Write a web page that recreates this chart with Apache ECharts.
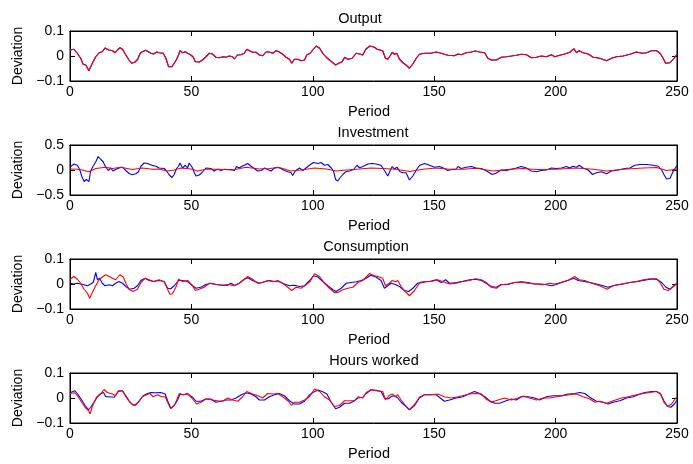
<!DOCTYPE html>
<html>
<head>
<meta charset="utf-8">
<title>Deviations</title>
<script src="https://cdn.jsdelivr.net/npm/echarts@6/dist/echarts.min.js"></script>
<style>
  html, body { margin: 0; padding: 0; background: #fff; }
  #chart { width: 693px; height: 464px; }
</style>
</head>
<body>
<div id="chart"></div>
<script>
// panel titles and axis settings
var titles = ['Output', 'Investment', 'Consumption', 'Hours worked'];
var periodTicks = [0, 50, 100, 150, 200, 250];
var yLimits = [0.1, 0.5, 0.1, 0.1];

// [period, deviation]; blue = data, red = model
var outputData = [[0,0.024],[1.6,0.027],[3,0.011],[4.4,-0.009],[5.4,-0.033],[6.5,-0.036],[7.8,-0.059],[9.2,-0.029],[10.6,-0.003],[12,0.013],[13.3,0.017],[14.4,0.032],[16,0.024],[17.5,0.021],[18.6,0.013],[19.5,0.024],[20.6,0.033],[21.6,0.027],[23,0.004],[24.3,-0.016],[25.4,-0.029],[26.8,-0.024],[27.9,-0.013],[28.9,0.011],[29.8,0.017],[31.2,0.023],[32.3,0.017],[33.3,0.011],[34.4,0.008],[35.8,0.016],[36.7,0.013],[38.4,0.011],[39.5,-0.009],[40.6,-0.043],[42,-0.043],[42.9,-0.029],[43.9,-0.013],[44.7,0.004],[45.3,0.021],[46.4,0.013],[47.5,0.017],[48.4,0.011],[49.8,0.004],[50.8,-0.005],[51.6,-0.023],[53.2,-0.024],[54.6,-0.016],[56,-0.003],[57.4,0.011],[58.7,0.008],[60.1,-0.005],[61.5,-0.007],[63.1,-0.003],[64.2,-0.005],[65.6,0],[67,-0.003],[67.7,-0.012],[69,0.004],[70.4,0.005],[71.8,0.011],[72.8,0.027],[73.9,0.021],[75.2,0.015],[76.6,0.015],[78,0.004],[79.4,0.001],[80.7,0.016],[82.1,0.016],[83.5,0.011],[84.9,0.021],[86.2,0.016],[87.6,0.007],[89,-0.005],[90.4,-0.013],[91.3,-0.029],[92.4,-0.013],[93.8,-0.013],[95.2,-0.019],[96.6,-0.016],[97.5,0.004],[98.9,0.011],[100,0.024],[101.4,0.04],[102.8,0.031],[104.1,0.011],[105.5,-0.005],[106.9,-0.016],[108.3,-0.027],[109.4,-0.036],[110.7,-0.029],[112.1,-0.023],[113.1,-0.005],[114.4,-0.013],[116.2,-0.009],[117.9,0.011],[119.3,0.008],[120.6,0.004],[121.8,0.027],[123.5,0.04],[125.4,0.035],[126.5,0.027],[128.8,0.021],[129.9,-0.009],[130.9,-0.013],[131.8,0],[132.7,0.015],[133.6,0.007],[134.6,0.011],[135.7,-0.013],[137.1,-0.027],[138.4,-0.036],[139.8,-0.049],[141.2,-0.032],[142.6,-0.009],[143.9,0.007],[146,0.011],[148.7,0.011],[150.8,0.016],[152.9,0.011],[155.6,0.003],[158.4,0.001],[159.8,0.008],[161.1,0.005],[163.2,0.013],[165.3,0.016],[167,0.02],[168.7,0.016],[170.8,0.013],[172.1,-0.009],[173.5,-0.016],[175.6,-0.016],[177.6,-0.005],[179.7,-0.003],[181.8,0],[183.8,0.003],[185.9,0.007],[188,0.005],[190,-0.007],[192.1,-0.005],[194.1,0],[196.2,-0.003],[198.3,0.005],[199.6,-0.003],[201.7,0.003],[203.8,0.008],[205.8,0.015],[207.6,0.029],[208.6,0.013],[209.7,0.021],[211.3,0.013],[213.4,0.008],[215.5,-0.005],[218.2,-0.009],[221,-0.019],[223,-0.009],[225.1,-0.003],[227.8,0],[230.6,0.007],[233.3,0.016],[235.4,0.011],[237.5,0.013],[239.5,0.021],[241.6,0.021],[243,0.011],[244.3,-0.009],[245.3,-0.029],[247.1,-0.027],[248.8,-0.009],[250,0.007]];
// model output sits on top of the data line
var outputModel = outputData;

var investData = [[0,0.056],[1.6,0.12],[3,0.095],[4,0.01],[4.8,-0.12],[5.8,-0.23],[6.7,-0.19],[7.8,-0.23],[8.5,-0.02],[9.5,0.075],[10.6,0.16],[11.6,0.27],[12.7,0.21],[13.6,0.17],[14.7,0.056],[15.8,-0.01],[16.8,0.04],[17.7,-0.02],[18.8,0.01],[20.2,0.04],[21.6,0.056],[23,-0.01],[24.3,-0.07],[25.7,-0.095],[27.1,-0.075],[28.2,-0.036],[29.2,0.075],[30.5,0.14],[31.9,0.13],[33.7,0.095],[35.4,0.075],[36.7,0.04],[38.8,0.03],[39.8,-0.02],[40.9,-0.1],[42,-0.15],[42.9,-0.09],[43.9,0.03],[44.7,0.075],[45.3,0.14],[46.4,0.04],[47.5,0.095],[48.4,0.04],[49.1,0.14],[50.5,0.04],[51.2,-0.055],[51.9,-0.12],[53.2,-0.1],[54.3,-0.055],[56,0.04],[58,0.03],[59.4,-0.02],[60.8,0.015],[62.2,-0.01],[63.5,0.015],[64.9,0.01],[66.3,0.01],[67.7,-0.01],[68.6,0.07],[69.7,0.04],[70.8,0.075],[71.8,0.095],[73.2,0.13],[74.6,0.075],[75.9,0.03],[77.3,-0.02],[78.7,-0.01],[80.1,0.04],[81.4,0.01],[82.8,-0.02],[84.2,0.04],[85.6,0.056],[86.9,0.03],[88.3,-0.01],[89.7,-0.036],[91.1,-0.055],[91.7,-0.11],[92.8,-0.02],[94.5,0.04],[95.9,-0.01],[97.2,0.04],[98.6,0.095],[100.3,0.15],[102.1,0.13],[103.4,0.15],[104.8,0.095],[106.2,0.11],[107.6,0.04],[108.5,-0.02],[109.4,-0.19],[110.3,-0.22],[111.3,-0.15],[112.4,-0.09],[113.5,-0.036],[115.1,-0.02],[116.8,0.01],[118.2,0.095],[119.3,0.04],[120.6,0.07],[122.7,0.12],[124.5,0.13],[126,0.12],[128.1,0.095],[129.5,-0.01],[130.9,-0.12],[131.8,-0.02],[132.7,0.07],[133.6,0.02],[134.6,0.056],[136,-0.036],[137.1,-0.055],[138.4,-0.055],[139.8,-0.2],[141.2,-0.12],[142.8,0.01],[143.9,0.09],[146,0.13],[148.1,0.095],[150.1,0.056],[152.2,0.07],[154.2,0.03],[155.6,-0.01],[157.7,0.015],[158.8,0.01],[159.8,0.07],[161.1,0.03],[163.2,0.056],[165.3,0.07],[167.3,0.04],[169.4,0.03],[170.8,0],[172.1,-0.036],[173.9,-0.09],[175.6,-0.06],[177.6,0],[179.7,-0.01],[181.8,0.015],[183.8,0.04],[185.9,0.07],[188,0.04],[190,-0.02],[192.1,-0.036],[194.1,-0.01],[196.2,0],[198.3,0.04],[200.3,0.03],[202.4,0.04],[204.5,0.07],[205.8,0.04],[207.2,0.075],[208.6,0.056],[209.7,0.095],[211.3,0.04],[213.4,0],[215.2,-0.09],[216.8,-0.055],[218.9,-0.036],[221,-0.075],[223,-0.02],[225.8,0],[228.5,0.03],[230.6,0.04],[232.6,0.095],[234.7,0.11],[237.5,0.11],[240.2,0.095],[242.3,0.075],[243.7,0],[244.6,-0.09],[245.7,-0.18],[247.1,-0.17],[248.5,-0.02],[250,0.095]];
var investModel = [[0,0.02],[3,0.015],[5,0],[7.8,-0.036],[10.6,0.03],[14.7,0.056],[17.5,0.03],[21,0.056],[25.7,0.01],[29.8,0.04],[34,0.015],[36.7,0.02],[40,-0.02],[42.9,0],[45.7,0.04],[49.8,0.02],[52.5,-0.02],[56,0.015],[61.5,0.015],[67,0],[72.5,0.056],[78,0.02],[82.1,0.03],[86.2,0.05],[91,-0.02],[95.2,0],[100.7,0.04],[105.5,0.02],[109.7,-0.02],[113.8,0],[119.3,0.02],[124,0.04],[128.8,0.03],[134.3,0.015],[139.8,-0.03],[145.3,0.015],[150.8,0.04],[156.3,0.015],[161.8,0.015],[167.3,0.035],[174.2,-0.02],[181.1,0.015],[186.6,0.03],[192.1,0.01],[200.3,0.015],[208.6,0.04],[215.5,0.015],[221,-0.02],[227.8,0.015],[236.1,0.04],[241.6,0.05],[245.7,-0.01],[250,0.015]];

var consData = [[0,0.003],[1.6,0],[3,0.003],[4.4,0],[5.8,-0.003],[7.2,-0.007],[8.5,0],[9.6,0.007],[10.6,0.046],[11.3,0.017],[12.2,0.023],[13.3,0.003],[14.4,-0.007],[16.1,-0.003],[17.5,-0.007],[18.8,0.003],[20.2,0.01],[21.6,0.003],[23,-0.01],[24.6,-0.021],[26.4,-0.017],[27.8,-0.007],[29.2,0.014],[30.9,0.023],[32.6,0.014],[34.4,0.01],[36.7,0.014],[38.8,0.01],[40.2,-0.017],[41.5,-0.019],[42.9,-0.007],[44.7,0.014],[46.4,0.014],[48.4,0.01],[50.5,-0.007],[51.9,-0.017],[53.9,-0.013],[56,-0.002],[58,0.003],[60.1,-0.002],[62.9,-0.005],[64.9,-0.005],[66.3,0.003],[67.7,-0.006],[69.7,0.003],[71.8,0.019],[73.2,0.025],[75.2,0.014],[78,0.003],[80.1,0.009],[82.1,0.014],[84.2,0.01],[86.2,0.009],[88.3,0],[90.4,-0.007],[92.4,-0.005],[94.5,-0.01],[96.6,-0.007],[98.3,0.01],[100.3,0.033],[102.1,0.028],[104.1,0.01],[106.2,-0.007],[108.3,-0.023],[109.6,-0.03],[111.7,-0.017],[113.8,0.003],[115.8,0.006],[117.9,0.009],[120,0.014],[122,0.023],[123.8,0.035],[126,0.028],[128.1,0.014],[129.5,-0.017],[130.9,-0.007],[132.2,0.003],[134,-0.002],[135.7,-0.01],[137.7,-0.026],[139.5,-0.03],[141.2,-0.017],[143.2,0.003],[145.3,0.009],[148.1,0.01],[150.8,0.017],[152.9,0.006],[154.7,0.017],[156.3,0.003],[159.1,0.006],[161.8,0.011],[164.6,0.017],[167,0.019],[169.4,0.014],[171.4,0.003],[173.5,-0.01],[175.6,-0.013],[177.6,-0.002],[180.4,-0.002],[183.1,0.006],[185.9,0.009],[188.6,0.006],[191.4,0],[194.1,0],[196.2,-0.003],[198.3,-0.007],[200.3,-0.002],[203.1,0.009],[205.8,0.017],[207.5,0.023],[209.3,0.014],[211.3,0.011],[214.1,0.006],[216.8,0],[219.6,-0.007],[221.6,-0.013],[224.4,-0.005],[227.8,0],[230.6,0.006],[233.3,0.009],[236.1,0.014],[238.8,0.019],[241.6,0.019],[243.7,0.006],[245.4,-0.013],[247.1,-0.021],[248.8,-0.007],[250,0.003]];
var consModel = [[0,0.019],[1.6,0.03],[3,0.019],[4.4,0.003],[5.8,-0.021],[7.2,-0.037],[8.1,-0.057],[9.2,-0.034],[10.6,-0.007],[12,0.017],[13.3,0.028],[14.7,0.037],[16.1,0.03],[17.5,0.023],[18.8,0.017],[20.5,0.037],[21.9,0.028],[23,0.003],[24.3,-0.021],[26,-0.03],[27.8,-0.021],[29.2,0.006],[30.9,0.023],[32.6,0.017],[34.4,0.01],[36.7,0.017],[38.8,0.009],[40.2,-0.021],[41.1,-0.041],[42.2,-0.039],[43.6,-0.013],[44.7,0.019],[46.4,0.01],[48.4,0.014],[50.5,-0.007],[51.6,-0.026],[53.2,-0.021],[55.3,-0.013],[57.4,0.003],[60.1,-0.002],[62.9,-0.005],[64.9,-0.002],[67.7,-0.007],[69.7,0.003],[71.8,0.019],[73.2,0.03],[75.2,0.019],[77.3,0.003],[79.4,0.006],[81.4,0.014],[83.5,0.009],[85.6,0.014],[87.6,0.003],[89.7,-0.013],[91.3,-0.026],[93.1,-0.013],[95.2,-0.017],[97.2,-0.003],[98.9,0.01],[100.7,0.041],[102.8,0.03],[104.8,0.003],[106.9,-0.017],[108.9,-0.034],[110.3,-0.034],[112.4,-0.023],[114.4,-0.017],[116.5,-0.013],[118.6,0.006],[120.6,0.014],[123.4,0.042],[125.4,0.033],[126.5,0.031],[128.8,0.023],[129.9,-0.007],[131.5,0.003],[132.7,0.014],[134,0.009],[135,0.014],[136.4,-0.01],[137.7,-0.026],[139.8,-0.047],[141.9,-0.026],[143.9,0.003],[146.7,0.009],[149.4,0.011],[151.5,0.017],[153.6,0.009],[156.3,0],[159.1,0.003],[161.8,0.01],[164.6,0.014],[167,0.021],[169.4,0.017],[171.4,0.006],[173.5,-0.013],[175.6,-0.017],[177.6,-0.003],[180.4,0],[183.1,0.006],[185.9,0.007],[188.6,0.003],[191.4,0],[194.8,-0.003],[197.6,0.003],[199.6,0],[202.4,0.006],[205.1,0.014],[207.9,0.03],[209.7,0.017],[212,0.014],[214.8,0.003],[218.2,-0.007],[221.2,-0.021],[223.7,-0.007],[227.2,0],[230.6,0.006],[233.3,0.01],[236.1,0.017],[238.8,0.021],[241.6,0.021],[243,0.006],[244.6,-0.021],[246.4,-0.026],[248.5,-0.01],[250,0.003]];

var hoursData = [[0,0.021],[2,0.029],[3.4,0.013],[4.8,-0.008],[6.2,-0.03],[7.6,-0.047],[8.5,-0.037],[9.9,-0.017],[11.3,0.005],[12.7,0.018],[13.8,0.022],[14.7,0.005],[16.1,0.005],[18.2,0.003],[19.9,0.026],[21.6,0.029],[23,0.009],[24.3,-0.011],[25.7,-0.026],[27.1,-0.029],[28.5,-0.011],[30.1,0.009],[31.9,0.018],[33.3,0.022],[35.4,0.021],[37.4,0.022],[39.2,0.016],[40.2,-0.011],[41.5,-0.041],[42.9,-0.03],[44.3,-0.008],[45.3,0.016],[46.6,0.013],[48.4,0.016],[50.5,0.003],[51.9,-0.013],[53.9,-0.013],[56,-0.004],[58,-0.004],[60.1,-0.017],[62.2,-0.013],[64.2,-0.008],[66.3,-0.008],[68.4,0],[70.4,0.012],[72.5,0.021],[74.6,0.016],[76.6,0.005],[78,-0.008],[80.1,-0.008],[82.1,0.005],[84.2,0.013],[86.2,0.018],[88.3,0.009],[90.4,-0.011],[92.4,-0.024],[94.5,-0.024],[96.6,-0.013],[98.3,0.009],[100,0.022],[102.1,0.032],[104.1,0.025],[105.8,0.016],[107.6,-0.017],[109.4,-0.043],[111,-0.037],[113.1,-0.021],[115.1,-0.021],[116.8,-0.013],[118.6,0],[120.6,0.003],[122,0.018],[124,0.033],[126,0.031],[128.1,0.026],[129.5,0],[130.9,-0.004],[132.2,0.005],[133.6,0.009],[135,0],[136.4,-0.017],[138.4,-0.034],[139.8,-0.047],[141.9,-0.03],[143.9,0],[146,0.013],[148.7,0.013],[150.8,0.013],[152.5,0],[154.2,-0.013],[156.3,-0.008],[159.1,0],[161.8,0.005],[164.6,0.018],[166.6,0.026],[168.7,0.018],[170.8,0.005],[172.8,-0.011],[174.9,-0.021],[176.9,-0.021],[179.7,-0.011],[181.8,-0.004],[183.8,-0.008],[185.9,0.005],[188.6,0.005],[191.4,0],[193.4,-0.008],[196.2,0.005],[199,0.009],[202.4,0.009],[205.1,0.016],[207.9,0.018],[210,0.022],[212,0.018],[214.1,0.003],[216.8,-0.013],[219.6,-0.017],[221.6,-0.024],[223.7,-0.017],[226.5,-0.011],[229.2,0],[232,0.005],[234.7,0.016],[236.8,0.022],[239.5,0.026],[241.6,0.026],[243.2,0.016],[244.6,-0.011],[246.1,-0.034],[247.5,-0.037],[248.9,-0.024],[250,-0.008]];
var hoursModel = [[0,0.018],[2,0.021],[3.4,0.005],[4.8,-0.017],[6.2,-0.037],[7.6,-0.05],[8.3,-0.063],[9.2,-0.034],[10.9,0.003],[12.7,0.018],[14,0.034],[15.4,0.022],[17.5,0.016],[18.8,0.009],[19.9,0.029],[21.6,0.029],[23,0.005],[24.6,-0.017],[26.4,-0.03],[28.2,-0.017],[29.8,0.005],[31.5,0.013],[32.9,0.018],[34.2,0.005],[36,0.013],[37.8,0.005],[39.2,0.005],[40.4,-0.021],[41.5,-0.043],[43.3,-0.024],[45,0.018],[46.6,0.013],[48.4,0.018],[50.2,0],[52.1,-0.024],[53.9,-0.017],[56,-0.004],[58.7,-0.008],[60.8,-0.011],[62.9,-0.013],[64.9,0],[67,-0.008],[69.1,-0.013],[71.1,0.005],[72.8,0.026],[75.2,0.016],[77.3,0.009],[79.4,0],[81.4,0.018],[83.5,0.016],[85.6,0.018],[87.6,0.005],[89.7,-0.011],[91.3,-0.03],[92.4,-0.017],[94.5,-0.017],[96.6,-0.008],[98.6,0.005],[100.7,0.036],[102.8,0.026],[104.8,0.005],[106.9,-0.008],[108.9,-0.034],[111,-0.03],[113.1,-0.011],[115.1,-0.011],[117.2,-0.011],[118.6,0.005],[120.6,0],[122,0.022],[124,0.033],[126,0.029],[128.8,0.026],[129.9,-0.008],[131.3,0.009],[132.7,0.016],[134,0.005],[135,0.013],[136.4,-0.008],[138.2,-0.03],[139.8,-0.047],[141.9,-0.026],[143.9,0.003],[146,0.013],[148.7,0.013],[151.5,0.016],[154.2,0.005],[157,0],[159.8,0.005],[162.5,0.011],[164.6,0.016],[167,0.018],[169.4,0.016],[171.4,-0.004],[173.5,-0.017],[176.3,-0.008],[179,0],[181.8,-0.008],[184.5,0],[186.6,0.008],[189.3,0],[192.1,-0.008],[194.8,0],[197.6,0],[200.3,0.005],[203.1,0.009],[205.8,0.013],[208.6,0.016],[211.3,0.005],[214.1,-0.004],[216.2,-0.017],[218.2,-0.013],[221,-0.021],[223.7,-0.011],[227.2,0],[229.9,0.005],[233.3,0.013],[236.1,0.018],[238.8,0.022],[241.6,0.026],[243.2,0.018],[244.6,-0.017],[246.1,-0.034],[247.8,-0.024],[248.9,-0.008],[250,0.005]];

var blueSets = [outputData, investData, consData, hoursData];
var redSets = [outputModel, investModel, consModel, hoursModel];

var gridTops = [31, 145, 259, 373];
var gridHeight = 50;
var titleCenters = [360, 373, 366, 374];
var font = 'Liberation Sans, Arial, Helvetica, sans-serif';

function fmtY(v) {
  if (Math.abs(v) < 1e-9) return '0';
  return String(+v.toFixed(2)).replace('-', '\u2212');
}

var grids = [], xAxes = [], yAxes = [], series = [], texts = [];

for (var i = 0; i < 4; i++) {
  grids.push({ left: 70, right: 16, top: gridTops[i], height: gridHeight,
    show: true, borderColor: '#000', borderWidth: 1, backgroundColor: '#fff' });

  // panel title and "Period" label
  texts.push({ type: 'text', x: titleCenters[i], y: gridTops[i] - 12,
    style: { text: titles[i], font: '14.5px ' + font, fill: '#000',
      textAlign: 'center', textVerticalAlign: 'middle' } });
  texts.push({ type: 'text', x: 369, y: gridTops[i] + gridHeight + 31,
    style: { text: 'Period', font: '14.5px ' + font, fill: '#000',
      textAlign: 'center', textVerticalAlign: 'middle' } });

  // bottom axis with labels
  xAxes.push({ type: 'value', gridIndex: i, min: 0, max: 250, interval: 50,
    axisLine: { onZero: false, lineStyle: { color: '#000', width: 1 } },
    axisTick: { inside: true, length: 5, lineStyle: { color: '#000' } },
    axisLabel: { fontFamily: font, fontSize: 14, color: '#000', margin: 4 },
    splitLine: { show: false } });
  // top mirror axis, ticks only
  xAxes.push({ type: 'value', gridIndex: i, position: 'top', min: 0, max: 250, interval: 50,
    axisLine: { onZero: false, lineStyle: { color: '#000', width: 1 } },
    axisTick: { inside: true, length: 5, lineStyle: { color: '#000' } },
    axisLabel: { show: false }, splitLine: { show: false } });

  var lim = yLimits[i];
  yAxes.push({ type: 'value', gridIndex: i, min: -lim, max: lim, interval: lim,
    name: 'Deviation', nameLocation: 'middle', nameGap: 41,
    nameTextStyle: { fontFamily: font, fontSize: 14, color: '#000' },
    axisLine: { show: true, onZero: false, lineStyle: { color: '#000', width: 1 } },
    axisTick: { show: true, inside: true, length: 5, lineStyle: { color: '#000' } },
    axisLabel: { fontFamily: font, fontSize: 14, color: '#000', margin: 6, formatter: fmtY },
    splitLine: { show: false } });
  yAxes.push({ type: 'value', gridIndex: i, position: 'right', min: -lim, max: lim, interval: lim,
    axisLine: { show: true, onZero: false, lineStyle: { color: '#000', width: 1 } },
    axisTick: { show: true, inside: true, length: 5, lineStyle: { color: '#000' } },
    axisLabel: { show: false }, splitLine: { show: false } });

  series.push({ type: 'line', xAxisIndex: i * 2, yAxisIndex: i * 2, data: blueSets[i],
    showSymbol: false, lineStyle: { color: '#0000ff', width: 1.1 }, itemStyle: { color: '#0000ff' } });
  series.push({ type: 'line', xAxisIndex: i * 2, yAxisIndex: i * 2, data: redSets[i],
    showSymbol: false, lineStyle: { color: '#ff0000', width: 1.1 }, itemStyle: { color: '#ff0000' } });
}

var myChart = echarts.init(document.getElementById('chart'), null, { renderer: 'canvas' });
myChart.setOption({
  animation: false,
  backgroundColor: '#fff',
  graphic: texts,
  grid: grids,
  xAxis: xAxes,
  yAxis: yAxes,
  series: series
});
</script>
</body>
</html>
